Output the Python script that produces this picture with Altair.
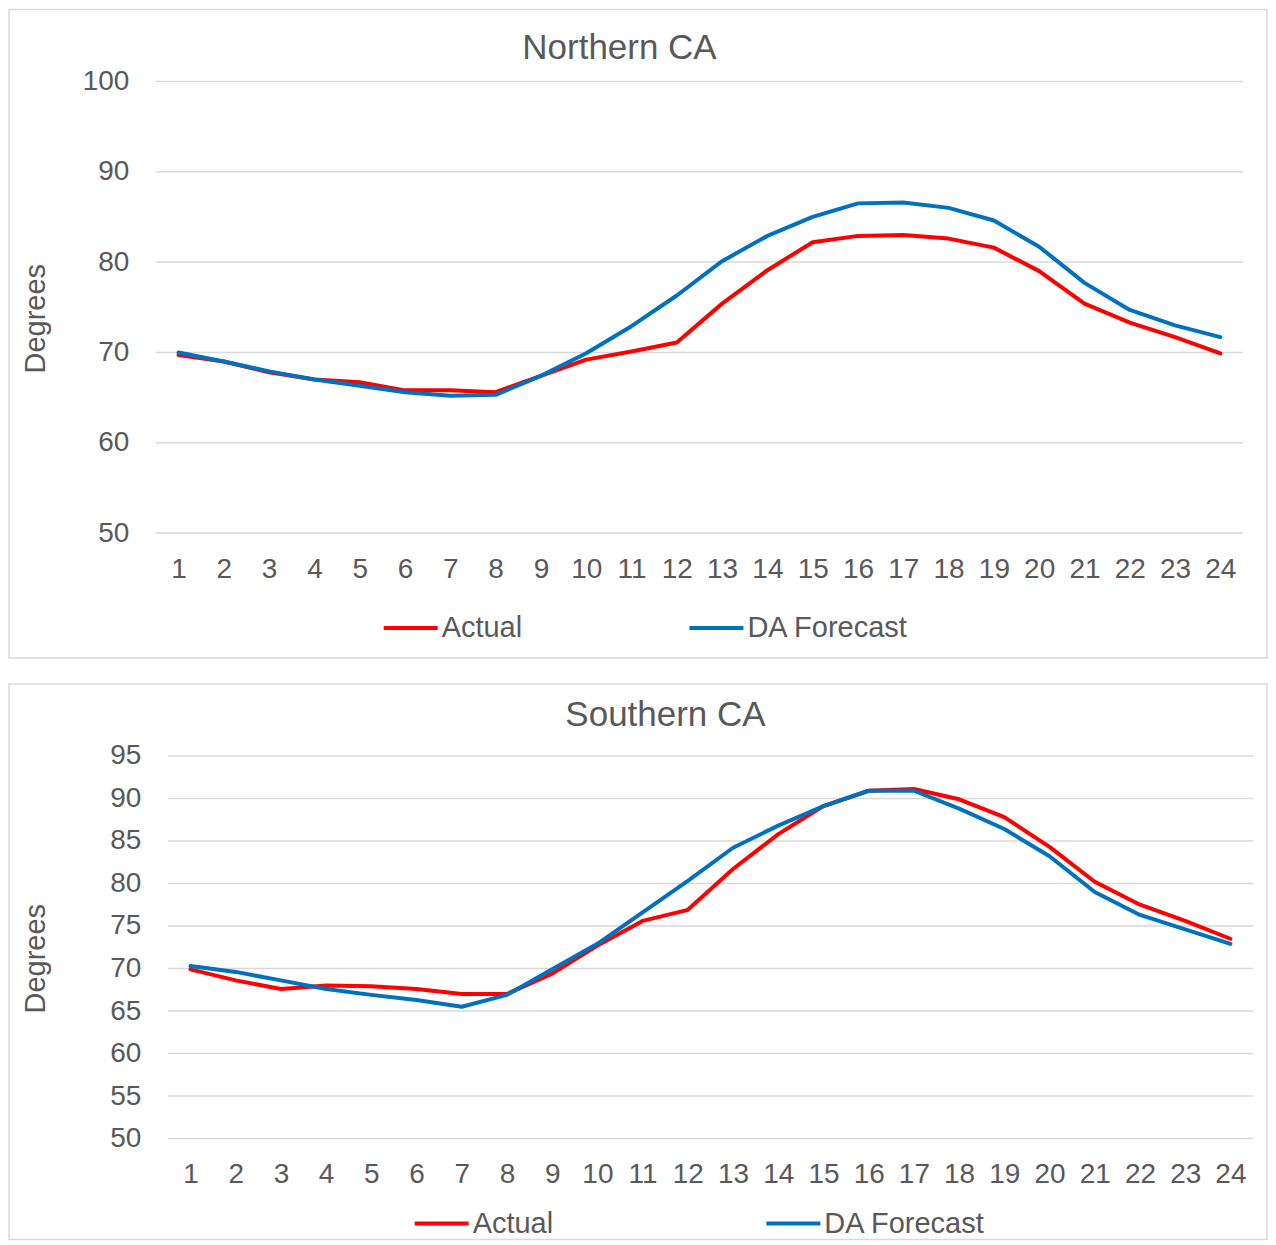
import altair as alt
import pandas as pd

hours = list(range(1, 25))
series_names = ["Actual", "DA Forecast"]
series_colors = ["#FF0000", "#0070C0"]

north_actual = [69.7, 69.0, 67.8, 67.0, 66.7, 65.8, 65.8, 65.6, 67.4, 69.2, 70.1, 71.1,
                75.4, 79.1, 82.2, 82.9, 83.0, 82.6, 81.6, 79.0, 75.4, 73.3, 71.7, 69.9]
north_forecast = [70.0, 69.0, 67.9, 67.0, 66.3, 65.6, 65.2, 65.3, 67.4, 69.9, 72.9, 76.3,
                  80.1, 82.9, 85.0, 86.5, 86.6, 86.0, 84.6, 81.7, 77.7, 74.7, 73.0, 71.7]
south_actual = [69.9, 68.6, 67.6, 68.0, 67.9, 67.6, 67.0, 67.0, 69.4, 72.7, 75.6, 76.9,
                81.7, 85.8, 89.1, 90.9, 91.1, 89.9, 87.8, 84.3, 80.2, 77.5, 75.6, 73.5]
south_forecast = [70.3, 69.6, 68.6, 67.6, 66.9, 66.3, 65.5, 66.9, 69.9, 72.9, 76.6, 80.3,
                  84.2, 86.8, 89.1, 90.9, 90.9, 88.8, 86.4, 83.2, 79.0, 76.3, 74.6, 72.9]
north_ticks = [50, 60, 70, 80, 90, 100]
south_ticks = [50, 55, 60, 65, 70, 75, 80, 85, 90, 95]

FONT = "Liberation Sans"
TXT = "#595959"
GRID = "#D9D9D9"


def make_df(actual, forecast):
    return pd.DataFrame({
        "hour": hours + hours,
        "value": actual + forecast,
        "series": [series_names[0]] * len(hours) + [series_names[1]] * len(hours),
    })


def panel(df, ticks, title, w, h, x0, title_x, title_y, label_pad, ytitle_x,
          legend_x, legend_y, col_pad, box):
    yscale = alt.Scale(domain=[ticks[0], ticks[-1]], nice=False, zero=False)
    lines = alt.Chart(df).mark_line(strokeWidth=4, strokeCap="round", strokeJoin="round").encode(
        x=alt.X("hour:O", scale=alt.Scale(range=[x0, w]), axis=alt.Axis(
            title=None, labelAngle=0, ticks=False, domain=False, grid=False,
            labelFontSize=28, labelColor=TXT, labelFont=FONT, labelPadding=22)),
        y=alt.Y("value:Q", scale=yscale,
                axis=alt.Axis(values=ticks, title="Degrees",
                              ticks=False, domain=False, grid=False,
                              labelFontSize=28, labelColor=TXT, labelFont=FONT,
                              labelPadding=label_pad,
                              titleFontSize=29, titleColor=TXT, titleFont=FONT,
                              titleFontWeight="normal", titleX=ytitle_x, titleY=h / 2 + 11,
                              titleAngle=270, titleAlign="center", titleBaseline="middle")),
        color=alt.Color("series:N", sort=series_names,
                        scale=alt.Scale(domain=series_names, range=series_colors),
                        legend=alt.Legend(title=None, orient="none", legendX=legend_x,
                                          legendY=legend_y, direction="horizontal", columns=2,
                                          symbolType="stroke", symbolSize=2916,
                                          symbolStrokeWidth=4, labelFontSize=29,
                                          labelColor=TXT, labelFont=FONT, labelOffset=2,
                                          labelLimit=400, columnPadding=col_pad)),
    )
    grid = alt.Chart(pd.DataFrame({"tick": ticks})).mark_rule(
        color=GRID, strokeWidth=1.5).encode(
        y=alt.Y("tick:Q", scale=yscale), x=alt.value(x0), x2=alt.value(w))
    one = pd.DataFrame({"k": [0]})
    frame = alt.Chart(one).mark_rect(fill=None, stroke=GRID, strokeWidth=1.5).encode(
        x=alt.value(box[0]), x2=alt.value(box[1]), y=alt.value(box[2]), y2=alt.value(box[3]))
    heading = alt.Chart(one).mark_text(
        text=title, fontSize=35, font=FONT, color=TXT, align="center",
        baseline="alphabetic").encode(x=alt.value(title_x), y=alt.value(title_y))
    return alt.layer(frame, heading, grid, lines).properties(width=w, height=h)


top = panel(make_df(north_actual, north_forecast), north_ticks, "Northern CA",
            1088, 452, 0, 464, -22, 27, -120, 226, 518, 159, (-147, 1112, -72, 577))
bottom = panel(make_df(south_actual, south_forecast), south_ticks, "Southern CA",
               1098, 383, 12, 510, -30, 15, -120, 257, 439, 205, (-147, 1112, -72, 484))

chart = alt.vconcat(top, bottom, spacing=24).resolve_scale(color="independent").properties(
    padding=0).configure_view(stroke=None)

chart.save("out.html", embed_options={"renderer": "svg", "actions": False})
